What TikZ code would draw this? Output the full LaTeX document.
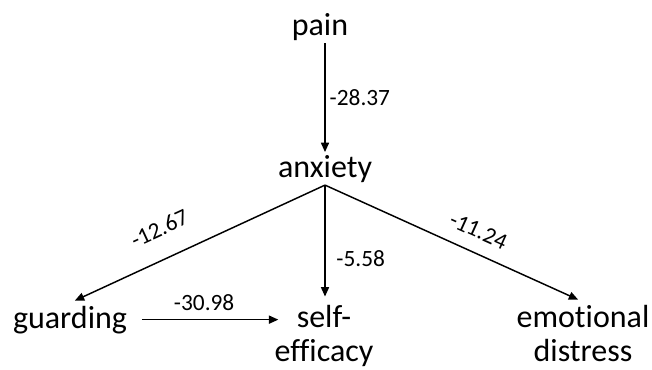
\documentclass[tikz,border=0pt]{standalone}
\usepackage{fontspec}
\setmainfont{Carlito}[Ligatures=NoCommon]
\usetikzlibrary{arrows.meta}

\begin{document}
\begin{tikzpicture}[x=0.75pt,y=-0.75pt,
	var/.style={font=\fontsize{24}{25.5}\selectfont,inner sep=2pt,align=center},
	wt/.style={font=\fontsize{17.5}{20}\selectfont,inner sep=3pt},
	link/.style={line width=1.1pt,-{Triangle[length=7pt,width=6pt]}}]
	\useasboundingbox (0,0) rectangle (652,369);
	% variables
	\node[var,anchor=base] (pain) at (320,35) {pain};
	\node[var,anchor=base] (anxiety) at (325,177) {anxiety};
	\node[var,anchor=base] (guarding) at (70,328) {guarding};
	\node[var,anchor=base] (selfeff) at (324,361) {self-\\efficacy};
	\node[var,anchor=base] (distress) at (583,361) {emotional\\distress};
	% paths
	\draw[link] (anxiety.north |- pain.south) -- node[wt,right,pos=0.5] {-28.37} (anxiety.north);
	\draw[link,shorten >=4pt] (anxiety.south) -- node[wt,sloped,above=13pt,pos=0.6] {-12.67} (guarding.north);
	\draw[link,shorten >=4pt] (anxiety.south) -- node[wt,right,pos=0.63,xshift=5pt] {-5.58} (anxiety.south |- selfeff.north);
	\draw[link,shorten >=4pt] (anxiety.south) -- node[wt,sloped,above=7pt,pos=0.56] {-11.24} (distress.north);
	\draw[link,shorten <=9pt] (guarding.east) -- node[wt,above,yshift=3pt] {-30.98} ([xshift=5pt]guarding.east -| selfeff.west);
\end{tikzpicture}
\end{document}
